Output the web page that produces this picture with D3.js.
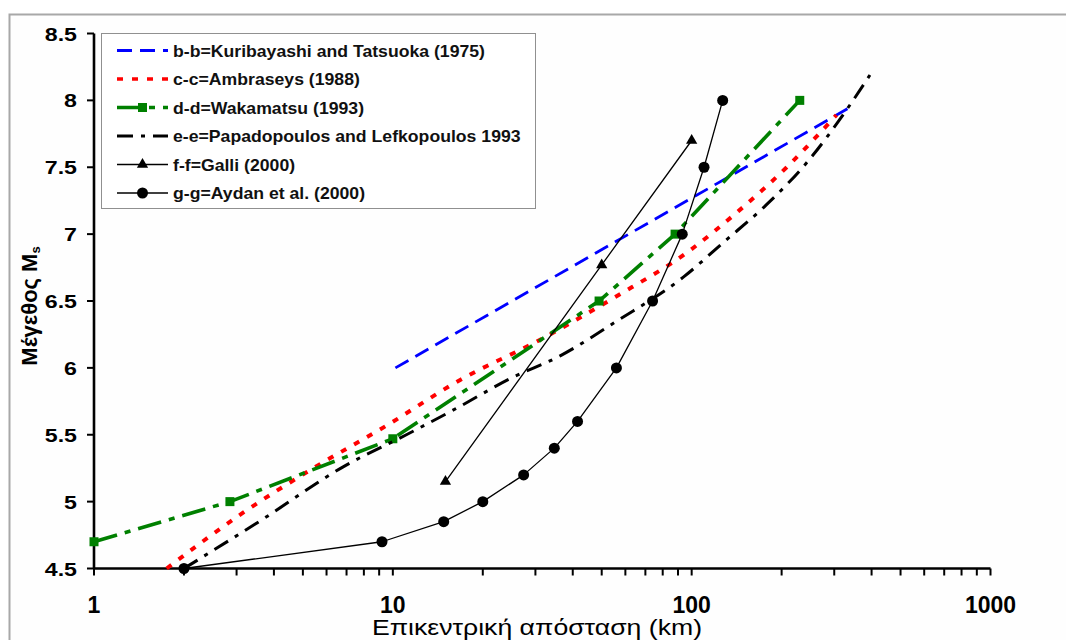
<!DOCTYPE html>
<html>
<head>
<meta charset="utf-8">
<script src="https://cdn.jsdelivr.net/npm/d3@7"></script>
<style>
  html, body { margin: 0; padding: 0; background: #ffffff; }
  svg { display: block; font-family: "Liberation Sans", Arial, sans-serif; }
</style>
</head>
<body>
<svg id="chart" width="1066" height="640"></svg>
<script>
// Epicentral distance (km) vs magnitude Ms for liquefaction limit curves

const xTicks = [1, 10, 100, 1000];
const yTicks = [4.5, 5, 5.5, 6, 6.5, 7, 7.5, 8, 8.5];

// b-b Kuribayashi and Tatsuoka (1975)
const distKuribayashi = [10.2, 340];
const magKuribayashi  = [6.0, 7.95];

// c-c Ambraseys (1988)
const distAmbraseys = [1.75, 3.12, 5.28, 9.55, 16.8, 31.1, 55.5, 97.5, 143, 208, 305];
const magAmbraseys  = [4.5, 4.91, 5.235, 5.57, 5.91, 6.21, 6.53, 6.87, 7.17, 7.50, 7.89];

// d-d Wakamatsu (1993)
const distWakamatsu = [1, 2.85, 10, 49, 88, 230];
const magWakamatsu  = [4.7, 5.0, 5.47, 6.5, 7.0, 8.0];

// e-e Papadopoulos and Lefkopoulos 1993
const distPapadopoulos = [2.0, 3.68, 6.82, 11.1, 16.4, 24.7, 36.3, 56.2, 94, 128, 178, 246, 330, 395];
const magPapadopoulos  = [4.5, 4.87, 5.26, 5.50, 5.70, 5.92, 6.09, 6.35, 6.68, 6.94, 7.22, 7.55, 7.93, 8.19];

// f-f Galli (2000)
const distGalli = [15, 50, 100];
const magGalli  = [5.15, 6.77, 7.7];

// g-g Aydan et al. (2000)
const distAydan = [2, 9.2, 14.8, 20, 27.4, 34.7, 41.5, 56, 74, 93, 110, 127];
const magAydan  = [4.5, 4.7, 4.85, 5.0, 5.2, 5.4, 5.6, 6.0, 6.5, 7.0, 7.5, 8.0];

const legendLabels = [
  "b-b=Kuribayashi and Tatsuoka (1975)",
  "c-c=Ambraseys (1988)",
  "d-d=Wakamatsu (1993)",
  "e-e=Papadopoulos and Lefkopoulos 1993",
  "f-f=Galli (2000)",
  "g-g=Aydan et al. (2000)"
];

const zip = (xs, ys) => xs.map((d, i) => [d, ys[i]]);

const series = [
  { name: legendLabels[0], pts: zip(distKuribayashi, magKuribayashi), color: "#0000ff", width: 2.8, dash: "15,8", marker: null, curve: d3.curveLinear },
  { name: legendLabels[1], pts: zip(distAmbraseys, magAmbraseys), color: "#ff0000", width: 4, dash: "6,9", marker: null, curve: d3.curveMonotoneX },
  { name: legendLabels[2], pts: zip(distWakamatsu, magWakamatsu), color: "#008000", width: 3.6, dash: "24,8,6,8", marker: "square", curve: d3.curveLinear },
  { name: legendLabels[3], pts: zip(distPapadopoulos, magPapadopoulos), color: "#000000", width: 3, dash: "16,8,4,8", marker: null, curve: d3.curveMonotoneX },
  { name: legendLabels[4], pts: zip(distGalli, magGalli), color: "#000000", width: 1.3, dash: null, marker: "triangle", curve: d3.curveLinear },
  { name: legendLabels[5], pts: zip(distAydan, magAydan), color: "#000000", width: 1.3, dash: null, marker: "circle", curve: d3.curveLinear }
];

const svg = d3.select("#chart");

// outer frame
svg.append("rect")
  .attr("x", 9.5).attr("y", 14.5)
  .attr("width", 1100).attr("height", 700)
  .attr("fill", "#fefefe")
  .attr("stroke", "#a8a8a8").attr("stroke-width", 2);

const x = d3.scaleLog().domain([1, 1000]).range([94, 990.5]);
const y = d3.scaleLinear().domain([4.5, 8.5]).range([568.5, 33.5]);

// minor ticks for log axis
const xMinor = [];
for (let dec = 1; dec < 1000; dec *= 10) {
  for (let k = 2; k <= 9; k++) xMinor.push(dec * k);
}

// x axis
const gx = svg.append("g").attr("transform", `translate(0,${y(4.5)})`);
gx.append("line")
  .attr("x1", x(1)).attr("x2", x(1000))
  .attr("stroke", "#000").attr("stroke-width", 2.6);
gx.selectAll("line.tick")
  .data(xTicks.concat(xMinor))
  .join("line")
  .attr("class", "tick")
  .attr("x1", d => x(d)).attr("x2", d => x(d))
  .attr("y1", 0).attr("y2", 7)
  .attr("stroke", "#000").attr("stroke-width", 2);
gx.selectAll("text")
  .data(xTicks)
  .join("text")
  .attr("x", d => x(d))
  .attr("y", 44)
  .attr("text-anchor", "middle")
  .attr("font-size", 23)
  .attr("font-weight", "bold")
  .text(d => d);

// y axis
const gy = svg.append("g").attr("transform", `translate(${x(1)},0)`);
gy.append("line")
  .attr("y1", y(4.5)).attr("y2", y(8.5))
  .attr("stroke", "#000").attr("stroke-width", 2.6);
gy.selectAll("line.tick")
  .data(yTicks)
  .join("line")
  .attr("class", "tick")
  .attr("x1", -7).attr("x2", 0)
  .attr("y1", d => y(d)).attr("y2", d => y(d))
  .attr("stroke", "#000").attr("stroke-width", 2);
gy.selectAll("text")
  .data(yTicks)
  .join("text")
  .attr("transform", d => `translate(-17,${y(d) + 7}) scale(1.22,1)`)
  .attr("text-anchor", "end")
  .attr("font-size", 19)
  .attr("font-weight", "bold")
  .text(d => d);

// axis titles
svg.append("text")
  .attr("x", 537).attr("y", 635)
  .attr("text-anchor", "middle")
  .attr("font-size", 22)
  .attr("textLength", 330)
  .attr("lengthAdjust", "spacingAndGlyphs")
  .text("Επικεντρική απόσταση (km)");

const yt = svg.append("text")
  .attr("transform", "translate(37,306) rotate(-90)")
  .attr("text-anchor", "middle")
  .attr("font-size", 22)
  .attr("font-weight", "bold");
yt.append("tspan").text("Μέγεθος  M");
yt.append("tspan").attr("font-size", 13).attr("dy", 3).text("s");

// series lines
const line = d3.line().x(d => x(d[0])).y(d => y(d[1]));
const gs = svg.append("g");

function drawMarker(g, type, cx, cy, color) {
  if (type === "square") {
    g.append("rect").attr("x", cx - 4.5).attr("y", cy - 4.5)
      .attr("width", 9).attr("height", 9).attr("fill", color);
  } else if (type === "triangle") {
    g.append("path").attr("d", d3.symbol(d3.symbolTriangle, 55)())
      .attr("transform", `translate(${cx},${cy})`).attr("fill", color);
  } else if (type === "circle") {
    g.append("circle").attr("cx", cx).attr("cy", cy).attr("r", 5.5).attr("fill", color);
  }
}

series.forEach(s => {
  gs.append("path")
    .attr("d", line.curve(s.curve)(s.pts))
    .attr("fill", "none")
    .attr("stroke", s.color)
    .attr("stroke-width", s.width)
    .attr("stroke-dasharray", s.dash)
    .attr("stroke-linejoin", "round");
  if (s.marker) {
    s.pts.forEach(p => drawMarker(gs, s.marker, x(p[0]), y(p[1]), s.color));
  }
});

// legend
const lg = svg.append("g");
lg.append("rect")
  .attr("x", 101.5).attr("y", 33.5)
  .attr("width", 434).attr("height", 175)
  .attr("fill", "#ffffff")
  .attr("stroke", "#909090").attr("stroke-width", 1);

const legendY = d3.scalePoint().domain(legendLabels).range([50.5, 193]);
series.forEach(s => {
  const ly = legendY(s.name);
  lg.append("line")
    .attr("x1", 117).attr("x2", 168)
    .attr("y1", ly).attr("y2", ly)
    .attr("stroke", s.color)
    .attr("stroke-width", Math.min(s.width, 3.4))
    .attr("stroke-dasharray", s.dash);
  if (s.marker) drawMarker(lg, s.marker, 142.5, ly, s.color);
  lg.append("text")
    .attr("transform", `translate(173,${ly + 6}) scale(1.07,1)`)
    .attr("font-size", 16.5)
    .attr("font-weight", "bold")
    .attr("fill", "#111")
    .text(s.name);
});
</script>
</body>
</html>
